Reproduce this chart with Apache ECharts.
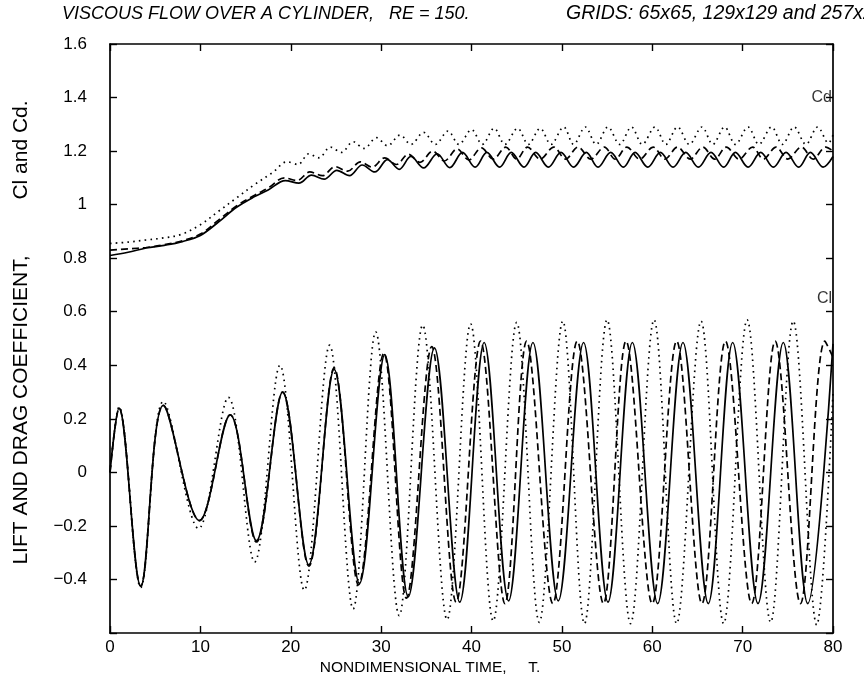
<!DOCTYPE html>
<html>
<head>
<meta charset="utf-8">
<script src="https://cdn.jsdelivr.net/npm/echarts@6/dist/echarts.min.js"></script>
<style>
html,body{margin:0;padding:0;background:#fff;}
#chart{width:864px;height:689px;}
</style>
</head>
<body>
<div id="chart"></div>
<script>
// ---- data (T, value) ----
const xTicks = [0, 10, 20, 30, 40, 50, 60, 70, 80];
const yTicks = [1.6, 1.4, 1.2, 1, 0.8, 0.6, 0.4, 0.2, 0, -0.2, -0.4];

const titleLeft = 'VISCOUS FLOW OVER A CYLINDER,   RE = 150.';
const titleRight = 'GRIDS: 65x65, 129x129 and 257x257';
const xName = 'NONDIMENSIONAL TIME,     T.';
const yName1 = 'LIFT AND DRAG COEFFICIENT,';
const yName2 = 'Cl and Cd.';

// Lift coefficient, 257x257 grid (solid)
const clSolid = [[0,0],[1.0,0.24],[3.4,-0.425],[5.9,0.25],[9.9,-0.18],[13.3,0.215],[16.2,-0.255],[19.1,0.30],[22.0,-0.345],[24.8,0.385],[27.6,-0.415],[30.4,0.44],[33.0,-0.465],[35.9,0.465],[38.7,-0.485],[41.4,0.485],[44.1,-0.48],[46.8,0.485],[49.6,-0.48],[52.4,0.485],[55.1,-0.485],[57.8,0.485],[60.6,-0.49],[63.4,0.485],[66.2,-0.49],[68.9,0.485],[71.7,-0.49],[74.5,0.485],[77.2,-0.49],[80,0.48]];
// Lift coefficient, 129x129 grid (dashed)
const clDashed = [[0,0],[1.0,0.24],[3.4,-0.425],[5.9,0.25],[9.9,-0.18],[13.3,0.215],[16.2,-0.26],[19.1,0.30],[22.0,-0.35],[24.8,0.39],[27.5,-0.42],[30.3,0.445],[32.8,-0.47],[35.6,0.47],[38.3,-0.485],[41.0,0.49],[43.7,-0.49],[46.1,0.49],[49.0,-0.49],[51.7,0.49],[54.6,-0.49],[57.1,0.49],[60.0,-0.49],[62.7,0.49],[65.5,-0.49],[68.1,0.49],[71.0,-0.49],[73.6,0.49],[76.4,-0.49],[79.1,0.49],[80,0.43]];
// Lift coefficient, 65x65 grid (dotted)
const clDotted = [[0,0],[1.0,0.245],[3.4,-0.43],[5.9,0.265],[9.8,-0.21],[13.1,0.28],[16.0,-0.335],[18.8,0.40],[21.5,-0.44],[24.3,0.475],[26.9,-0.51],[29.4,0.525],[32.0,-0.535],[34.6,0.55],[37.3,-0.55],[39.9,0.555],[42.4,-0.555],[45.0,0.56],[47.5,-0.56],[50.1,0.565],[52.5,-0.565],[55.0,0.57],[57.6,-0.565],[60.2,0.57],[62.7,-0.565],[65.4,0.565],[67.9,-0.565],[70.5,0.57],[73.1,-0.56],[75.6,0.565],[78.2,-0.57],[80,0.3]];

// Drag coefficient, 257x257 grid (solid)
const cdSolid = [[0,0.81],[2,0.822],[4,0.838],[6,0.848],[8,0.862],[10,0.885],[12,0.935],[14,0.99],[16,1.03],[17.5,1.055],[19.4,1.09],[20.9,1.08],[22.3,1.11],[23.7,1.095],[25.1,1.128],[26.5,1.108],[27.9,1.148],[29.3,1.122],[30.7,1.168],[32.0,1.132],[33.3,1.18],[34.7,1.137],[36.2,1.19],[37.6,1.138],[39.0,1.195],[40.4,1.14],[41.7,1.195],[43.1,1.14],[44.4,1.195],[45.8,1.14],[47.1,1.195],[48.5,1.14],[49.9,1.195],[51.3,1.14],[52.7,1.195],[54.0,1.14],[55.4,1.195],[56.8,1.14],[58.1,1.195],[59.5,1.14],[60.9,1.195],[62.3,1.14],[63.7,1.195],[65.1,1.14],[66.5,1.195],[67.9,1.14],[69.2,1.195],[70.6,1.14],[72.0,1.195],[73.4,1.14],[74.8,1.195],[76.2,1.14],[77.5,1.195],[78.9,1.14],[80,1.18]];
// Drag coefficient, 129x129 grid (dashed)
const cdDashed = [[0,0.83],[2,0.835],[4,0.84],[6,0.85],[8,0.865],[10,0.89],[12,0.942],[14,0.995],[16,1.035],[17.5,1.062],[19.3,1.1],[20.7,1.09],[22.1,1.122],[23.5,1.108],[24.9,1.142],[26.3,1.125],[27.7,1.16],[29.0,1.14],[30.4,1.175],[31.7,1.15],[33.0,1.188],[34.3,1.158],[35.7,1.2],[37.0,1.163],[38.4,1.208],[39.7,1.167],[41.1,1.212],[42.4,1.17],[43.8,1.215],[45.0,1.17],[46.2,1.215],[47.6,1.17],[49.1,1.215],[50.4,1.17],[51.8,1.215],[53.2,1.17],[54.7,1.215],[55.9,1.17],[57.2,1.215],[58.6,1.17],[60.1,1.215],[61.4,1.17],[62.8,1.215],[64.2,1.17],[65.6,1.215],[66.9,1.17],[68.2,1.215],[69.6,1.17],[71.1,1.215],[72.3,1.17],[73.7,1.215],[75.0,1.17],[76.5,1.215],[77.8,1.17],[79.2,1.215],[80,1.2]];
// Drag coefficient, 65x65 grid (dotted)
const cdDotted = [[0,0.855],[2,0.86],[4,0.868],[6,0.876],[8,0.89],[10,0.925],[12,0.975],[14,1.025],[16,1.075],[18,1.12],[19.6,1.16],[20.8,1.15],[22.0,1.19],[23.1,1.175],[24.4,1.215],[25.6,1.195],[26.9,1.235],[28.1,1.21],[29.5,1.25],[30.7,1.22],[32.1,1.26],[33.3,1.225],[34.7,1.27],[36.0,1.225],[37.4,1.275],[38.6,1.225],[40.0,1.28],[41.2,1.225],[42.5,1.285],[43.7,1.225],[45.1,1.285],[46.3,1.225],[47.6,1.285],[48.8,1.225],[50.2,1.29],[51.3,1.225],[52.6,1.29],[53.8,1.225],[55.1,1.29],[56.4,1.225],[57.7,1.29],[58.9,1.225],[60.3,1.29],[61.5,1.225],[62.8,1.29],[64.1,1.225],[65.5,1.29],[66.7,1.225],[68.0,1.29],[69.2,1.225],[70.6,1.29],[71.8,1.225],[73.2,1.29],[74.4,1.225],[75.7,1.29],[77.0,1.225],[78.3,1.29],[79.5,1.23],[80,1.26]];

const curveLabels = [{text:'Cd', value:1.40}, {text:'Cl', value:0.65}];

// ---- chart ----
const FONT = '"Liberation Sans", Arial, Helvetica, sans-serif';
const chart = echarts.init(document.getElementById('chart'), null, {renderer:'canvas'});

function fmtY(v){
  if (Math.abs(v + 0.6) < 1e-9) return '';
  const s = String(Math.round(v*10)/10);
  return v < 0 ? '\u2212' + s.slice(1) : s;
}

const axisLine = {show:true, onZero:false, lineStyle:{color:'#000', width:1.7}};
const tickIn = {show:true, inside:true, length:7, lineStyle:{color:'#000', width:1.4}};

function mk(name, data, type, z){
  let ls = {color:'#000', width:1.7};
  if (type === 'dashed') { ls.type = [7, 4]; }
  if (type === 'dotted') { ls.type = [1.6, 4.2]; ls.width = 1.7; }
  return {name, type:'line', data, smooth:0.35, showSymbol:false, symbol:'none',
    lineStyle:ls, z:z||2, clip:true, animation:false};
}

const option = {
  animation:false,
  backgroundColor:'#fff',
  grid:{left:110, right:31, top:44, bottom:56, containLabel:false},
  xAxis:[
    {type:'value', min:0, max:80, interval:10, position:'bottom',
     axisLine, axisTick:tickIn, splitLine:{show:false},
     axisLabel:{color:'#000', fontSize:17, fontFamily:FONT, margin:6,
       formatter:v=>xTicks.indexOf(v)>=0?String(v):''}},
    {type:'value', min:0, max:80, interval:10, position:'top',
     axisLine, axisTick:tickIn, splitLine:{show:false}, axisLabel:{show:false}}
  ],
  yAxis:[
    {type:'value', min:-0.6, max:1.6, interval:0.2, position:'left',
     axisLine, axisTick:tickIn, splitLine:{show:false},
     axisLabel:{color:'#000', fontSize:17, fontFamily:FONT, margin:23, formatter:fmtY}},
    {type:'value', min:-0.6, max:1.6, interval:0.2, position:'right',
     axisLine, axisTick:tickIn, splitLine:{show:false}, axisLabel:{show:false}}
  ],
  series:[
    mk('Cd 65x65', cdDotted, 'dotted'),
    mk('Cd 129x129', cdDashed, 'dashed'),
    mk('Cd 257x257', cdSolid, 'solid', 3),
    mk('Cl 65x65', clDotted, 'dotted'),
    mk('Cl 129x129', clDashed, 'dashed'),
    mk('Cl 257x257', clSolid, 'solid', 3),
    {type:'scatter', data:curveLabels.map(d=>[80, d.value]), symbolSize:0, silent:true,
     label:{show:true, position:'left', distance:0, offset:[-1,0], color:'#000', fontSize:16, fontFamily:FONT,
       formatter:p=>curveLabels[p.dataIndex].text}}
  ],
  graphic:[
    {type:'text', left:62, top:5, style:{text:titleLeft, font:'italic 18px ' + FONT, fill:'#000'}},
    {type:'text', left:566, top:4, style:{text:titleRight, font:'italic 19.5px ' + FONT, fill:'#000'}},
    {type:'text', x:430, y:668, style:{text:xName, font:'15.5px ' + FONT, fill:'#000', align:'center', verticalAlign:'middle'}},
    {type:'text', x:21, y:410, rotation:Math.PI/2, style:{text:yName1, font:'21px ' + FONT, fill:'#000', align:'center', verticalAlign:'middle'}},
    {type:'text', x:21, y:150, rotation:Math.PI/2, style:{text:yName2, font:'21px ' + FONT, fill:'#000', align:'center', verticalAlign:'middle'}}
  ]
};
chart.setOption(option);
</script>
</body>
</html>
